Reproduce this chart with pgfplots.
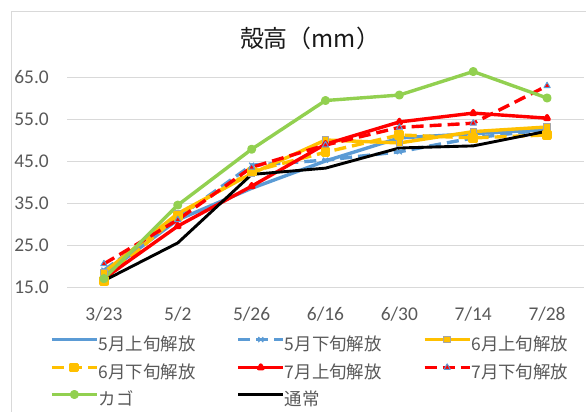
\documentclass[border=0pt]{standalone}
\usepackage{pgfplots}
\pgfplotsset{compat=1.18}
\usepackage{fontspec}
\setmainfont{Carlito}
\newfontfamily\jp{Noto Sans CJK JP}
\definecolor{cblue}{HTML}{5B9BD5}
\definecolor{cyel}{HTML}{FFC000}
\definecolor{cred}{HTML}{FF0000}
\definecolor{cgreen}{HTML}{92D050}
\definecolor{cgrid}{HTML}{D9D9D9}
\definecolor{ctxt}{HTML}{595959}
\definecolor{cgray}{HTML}{A5A5A5}
\begin{document}
\begin{tikzpicture}
\begin{axis}[
  at={(0bp,0bp)}, anchor=south west,
  scale only axis, width=517bp, height=231bp,
  xmin=-0.5, xmax=6.5, ymin=15, ymax=70,
  xtick={0,...,6},
  xticklabels={3/23,5/2,5/26,6/16,6/30,7/14,7/28},
  ytick={15,25,35,45,55,65},
  ymajorgrids, grid style={cgrid, line width=0.9bp},
  axis line style={draw=none},
  major tick length=0pt,
  /pgf/number format/.cd, fixed, fixed zerofill, precision=1, assume math mode=true,
  /pgfplots/.cd,
  tick label style={font=\fontsize{19.5}{22}\selectfont, text=ctxt},
  xticklabel style={inner sep=0pt, anchor=north, text height=13bp, text depth=0pt, yshift=-20.5bp},
  yticklabel style={inner sep=0pt, anchor=east, xshift=-18bp},
  clip=false,
  legend columns=3,
  legend cell align=left,
  legend style={at={(axis description cs:-0.0329,-0.213)}, anchor=north west,
    draw=none, fill=none, inner sep=0pt,
    font=\jp\fontsize{17.5}{20}\selectfont, text=ctxt,
    /tikz/every even column/.append style={column sep=39bp},
    row sep=11.5bp,
    nodes={inner sep=0pt, text height=12.5bp, text depth=2bp, text width=99bp, align=left, xshift=2bp}},
  legend image code/.code={\draw[mark repeat=2,mark phase=2,#1] plot coordinates {(0bp,5.5bp) (22.5bp,5.5bp) (45bp,5.5bp)};},
  every axis plot/.append style={line width=3.4bp, line join=round},
]
\addplot[cblue, mark=none] coordinates {(0,18.0) (1,31.0) (2,38.5) (3,45.0) (4,50.5) (5,51.5) (6,52.5)};
\addlegendentry{5月上旬解放}
\addplot[cblue, dash pattern=on 12bp off 6bp, mark=x, mark size=3.5bp, mark options={solid, line width=1.2bp}] coordinates {(0,19.0) (1,31.5) (2,44.0) (3,45.2) (4,47.2) (5,50.5) (6,52.5)};
\addlegendentry{5月下旬解放}
\addplot[cyel, mark=square*, mark size=3.2bp, mark options={solid, fill=cyel, draw=cgray, line width=1bp}] coordinates {(0,18.5) (1,32.5) (2,42.0) (3,50.0) (4,49.3) (5,52.0) (6,53.1)};
\addlegendentry{6月上旬解放}
\addplot[cyel, dash pattern=on 12bp off 6bp, mark=square*, mark size=3.2bp, mark options={solid, fill=cyel, draw=cyel}] coordinates {(0,16.5) (1,32.0) (2,42.5) (3,47.1) (4,51.2) (5,50.5) (6,51.2)};
\addlegendentry{6月下旬解放}
\addplot[cred, mark=triangle*, mark size=2.5bp, mark options={solid, fill=cred}] coordinates {(0,17.0) (1,29.5) (2,39.0) (3,49.0) (4,54.3) (5,56.4) (6,55.2)};
\addlegendentry{7月上旬解放}
\addplot[cred, dash pattern=on 12bp off 6bp, mark=triangle*, mark size=3.6bp, mark options={solid, fill=cred, draw=cblue, line width=1bp}] coordinates {(0,20.5) (1,31.0) (2,43.5) (3,48.8) (4,53.0) (5,54.0) (6,62.9)};
\addlegendentry{7月下旬解放}
\addplot[cgreen, mark=*, mark size=2.8bp, mark options={fill=cgreen}] coordinates {(0,17.0) (1,34.5) (2,47.8) (3,59.4) (4,60.7) (5,66.3) (6,60.0)};
\addlegendentry{カゴ}
\addplot[black, line width=2.9bp, mark=none] coordinates {(0,16.5) (1,25.5) (2,41.8) (3,43.3) (4,48.1) (5,48.6) (6,52.1)};
\addlegendentry{通常}
\end{axis}
\node[font=\jp\fontsize{24}{28}\selectfont, text=black!90] at (243bp,249bp) {殻高（mm）};
\draw[cgrid, line width=1bp] (-55bp,-140bp) -- (-55bp,275bp) -- (540bp,275bp);
\pgfresetboundingbox
\path[use as bounding box] (-67bp,-125bp) rectangle (519bp,287bp);
\end{tikzpicture}
\end{document}
